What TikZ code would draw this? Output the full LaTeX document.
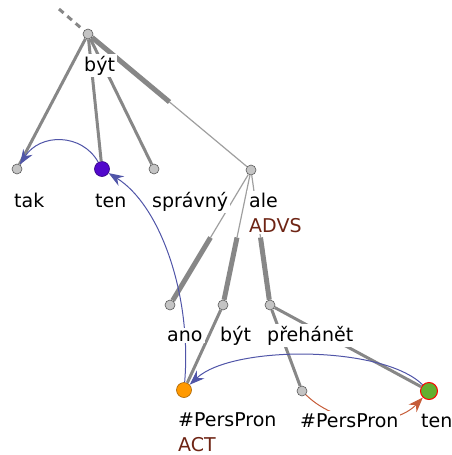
\documentclass[tikz,border=0pt]{standalone}
\usepackage{fontspec}
\setmainfont{DejaVu Sans}
\usetikzlibrary{calc,arrows.meta}
\definecolor{edgegray}{HTML}{878787}
\definecolor{nodegray}{HTML}{C4C4C4}
\definecolor{corefblue}{HTML}{5055A8}
\definecolor{corefred}{HTML}{C65C38}
\definecolor{funcred}{HTML}{6E2414}
\begin{document}
\begin{tikzpicture}[x=1pt,y=-1pt,font=\fontsize{19}{25}\selectfont,
    tnode/.style={circle,draw=gray!70!black,fill=nodegray,line width=0.6pt,minimum size=10pt,inner sep=0pt},
    edge/.style={draw=edgegray,line width=3pt},
    thickedge/.style={draw=edgegray,line width=5pt},
    thinedge/.style={draw=edgegray!80,line width=1.2pt},
    lbl/.style={anchor=base west,fill=white,inner sep=2pt,align=left},
    coref/.style={draw=corefblue,line width=1pt,-{Stealth[length=15pt,width=11pt,inset=5pt]}}]
    \useasboundingbox (0,0) rectangle (452,455);
    % nodes
    \node[tnode] (byt) at (88,34) {};
    \node[tnode] (tak) at (17,169) {};
    \node[tnode,fill={rgb,255:red,82;green,8;blue,204},draw={rgb,255:red,50;green,0;blue,130},minimum size=15pt] (ten) at (102,169) {};
    \node[tnode] (spravny) at (154,169) {};
    \node[tnode] (ale) at (251,170) {};
    \node[tnode] (ano) at (170,305) {};
    \node[tnode] (bytb) at (223,305) {};
    \node[tnode] (prehanet) at (270,305) {};
    \node[tnode,fill={rgb,255:red,255;green,153;blue,0},draw={rgb,255:red,170;green,100;blue,0},minimum size=15pt] (pers) at (184,390) {};
    \node[tnode] (persb) at (302,391) {};
    \node[tnode,fill={rgb,255:red,98;green,176;blue,48},draw=red,line width=1pt,minimum size=17pt] (tenb) at (429,391) {};
    \coordinate (root) at (59,9);
    % edges
    \draw[edge,dash pattern=on 6pt off 5pt] (root) -- (byt);
    \draw[edge] (byt) -- (tak);
    \draw[edge] (byt) -- (ten);
    \draw[edge] (byt) -- (spravny);
    \draw[thickedge] (byt) -- ($(byt)!0.5!(ale)$);
    \draw[thinedge] ($(byt)!0.5!(ale)$) -- (ale);
    \foreach \kid in {ano,bytb,prehanet}{
        \draw[thinedge] (ale) -- ($(ale)!0.5!(\kid)$);
        \draw[thickedge] ($(ale)!0.5!(\kid)$) -- (\kid);
    }
    \draw[edge] (bytb) -- (pers);
    \draw[edge] (prehanet) -- (persb);
    \draw[edge] (prehanet) -- (tenb);
    % coreference arrows
    \draw[coref] (ten) .. controls (82,133) and (40,133) .. (tak);
    \draw[coref] (pers) .. controls (192,295) and (160,205) .. (ten);
    \draw[coref] (tenb) .. controls (382,345) and (232,345) .. (pers);
    \draw[coref,draw=corefred] (persb) .. controls (340,428) and (396,426) .. (tenb);
    % labels (two-line labels sit on the baseline of their last line)
    \node[lbl] at ($(byt)+(-6,37)$) {být};
    \node[lbl] at ($(tak)+(-5,38)$) {tak};
    \node[lbl] at ($(ten)+(-9,38)$) {ten};
    \node[lbl] at ($(spravny)+(-4,38)$) {správný};
    \node[lbl] at ($(ale)+(-4,62)$) {ale\\\textcolor{funcred}{ADVS}};
    \node[lbl] at ($(ano)+(-5,36)$) {ano};
    \node[lbl] at ($(bytb)+(-5,36)$) {být};
    \node[lbl] at ($(prehanet)+(-5,36)$) {přehánět};
    \node[lbl] at ($(pers)+(-8,61)$) {\#PersPron\\\textcolor{funcred}{ACT}};
    \node[lbl] at ($(persb)+(-4,36)$) {\#PersPron};
    \node[lbl] at ($(tenb)+(-10,36)$) {ten};
\end{tikzpicture}
\end{document}
